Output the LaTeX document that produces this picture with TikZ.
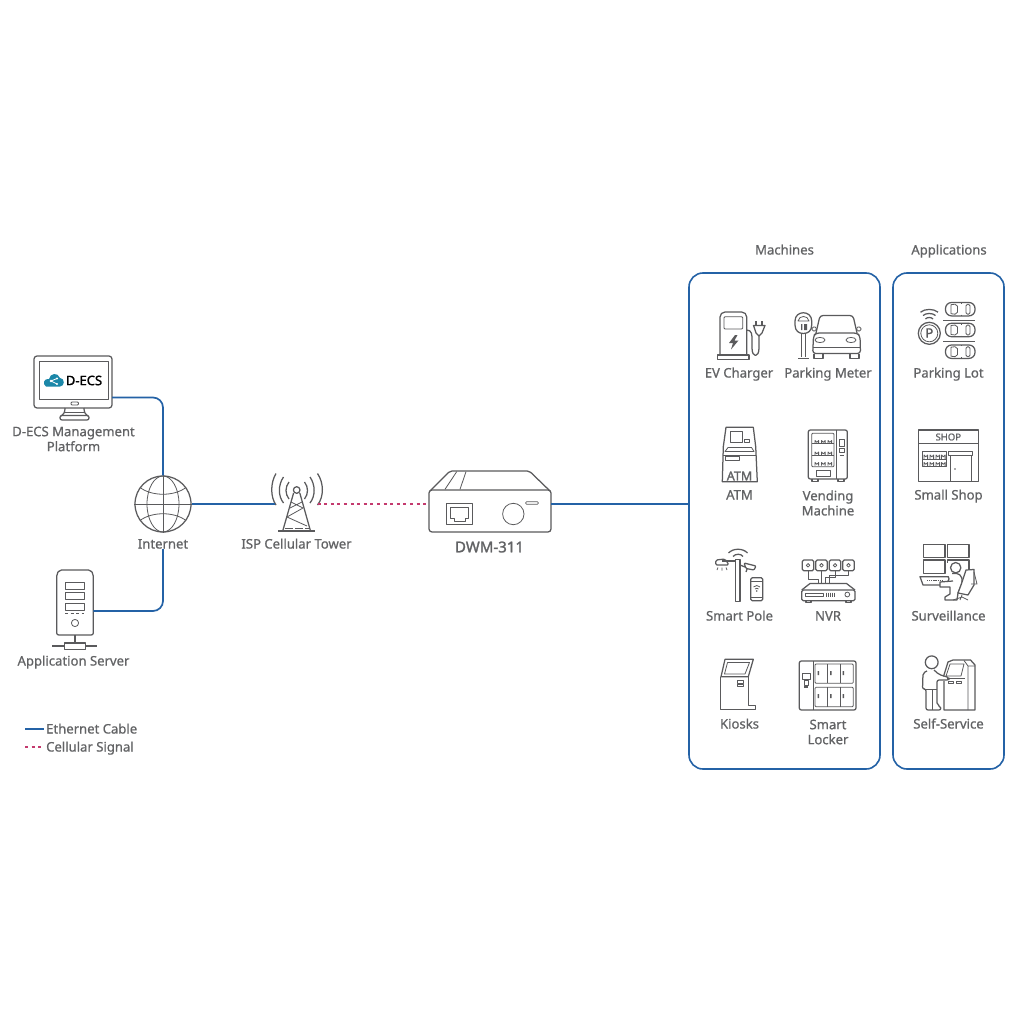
\documentclass[tikz,border=0pt]{standalone}
\usepackage{fontspec}
\setmainfont{Noto Sans}[FakeBold=0.8]
\newfontfamily\boldf{Noto Sans}[FakeBold=1.6]
\definecolor{eth}{HTML}{2462A6}
\definecolor{sig}{HTML}{C43A6E}
\definecolor{ink}{HTML}{5A5A5C}
\definecolor{txt}{HTML}{626365}
\definecolor{teal}{HTML}{1B87A8}
\tikzset{
 lbl/.style={text=txt,font=\fontsize{13.1}{15}\selectfont,align=center,inner sep=0pt},
 one/.style={lbl,text height=9.5pt,text depth=.5pt},
 ic/.style={draw=ink,line width=1.25pt,line join=round},
 th/.style={draw=ink,line width=.8pt,line join=round},
 ethline/.style={draw=eth,line width=1.7pt},
 sigline/.style={draw=sig,line width=1.7pt,dash pattern=on 3pt off 3.6pt},
 panel/.style={draw=eth,line width=1.6pt,rounded corners=14pt,inner sep=0pt,fill=none},
 anchorbox/.style={inner sep=0pt,outer sep=0pt,draw=none}
}
\begin{document}
\begin{tikzpicture}[x=1pt,y=-1pt]
\useasboundingbox[fill=white] (0,0) rectangle (1024,1024);
% panels
\node[panel,minimum width=191pt,minimum height=496pt] (mach) at (784.5,521) {};
\node[panel,minimum width=111pt,minimum height=496pt] (appl) at (948.5,521) {};
\node[one] (machT) at (784.5,250) {Machines};
\node[one] (applT) at (949,250) {Applications};
% monitor
\node[ic,anchorbox,draw=ink,rounded corners=3pt,minimum width=78pt,minimum height=52pt] (mon) at (73,382) {};
\draw[th] (39,361) rectangle (108,399);
\draw[th,rounded corners=1pt] (71,402) rectangle (78.5,405);
\draw[ic] (65,408) .. controls (65,412) and (64,414) .. (61,416) (84,408) .. controls (84,412) and (85,414) .. (88,416);
\draw[ic,rounded corners=2pt] (60,415.5) rectangle (89,420);
\draw[th] (65,412) -- (84,412);
% logo
\fill[teal] (46,386.5) .. controls (42,384) and (44,378) .. (49,379) .. controls (50,373) and (58,372) .. (60,378) .. controls (65,378) and (65,386.5) .. (60,386.5) -- cycle;
\draw[white,line width=.8pt] (51,381) -- (57,378.5) (51,381) -- (57,384);
\fill[white] (51,381) circle (1.3) (57,378.5) circle (1.1) (57,384) circle (1.1);
\node[inner sep=0pt,text=black,font=\boldf\fontsize{13}{14}\selectfont] (logo) at (84,380.5) {D-ECS};
\node[lbl] (monL) at (73.5,439) {D-ECS Management\\Platform};
% globe
\node[circle,draw=ink,line width=1.25pt,minimum size=56pt,inner sep=0pt] (globe) at (163,504) {};
\draw[th] (globe.west) -- (globe.east) (globe.north) -- (globe.south);
\draw[th] (globe.center) ellipse (16 and 28);
\draw[th] (140,487.5) .. controls (152,496.5) and (174,496.5) .. (186,487.5);
\draw[th] (140,520.5) .. controls (152,511.5) and (174,511.5) .. (186,520.5);
\node[one] (inet) at (163,544) {Internet};
% server
\node[anchorbox,minimum width=36.6pt,minimum height=65pt] (srv) at (75,602.5) {};
\draw[ic,rounded corners=2pt] (59.5,570) -- (90.5,570) -- (93.3,574) -- (93.3,635) -- (56.7,635) -- (56.7,574) -- cycle;
\draw[th] (65,582.3) rectangle (84.3,589.3) (65,592.7) rectangle (84.3,599.7) (65,603.3) rectangle (84.3,610.3);
\draw[th,dash pattern=on 3pt off 2.5pt] (65,613) -- (84.3,613);
\draw[th] (75,623) circle (3.6);
\draw[ic] (75,635) -- (75,643);
\draw[ic] (64.3,643) rectangle (85.3,649.3);
\draw[ic] (52.3,646) -- (64.3,646) (85.3,646) -- (96.7,646);
\node[one] (srvL) at (73.5,661) {Application Server};
% tower
\coordinate (twrL) at (275,504);
\coordinate (twrR) at (317.5,504);
\draw[ic] (296.7,490) circle (3.3);
\draw[ic] (293.6,493) -- (282.7,531) (299.8,493) -- (310.5,531);
\draw[ic] (278.3,531) -- (315,531);
\draw[th] (291,502) -- (303,508) -- (287,517) -- (307,526) (302,502) -- (290,508);
\draw[th,dash pattern=on 8pt off 2pt] (285,528) -- (309,528);
\draw[ic] (289,482) .. controls (285,487) and (285,494) .. (289,499);
\draw[ic] (304.5,482) .. controls (308.5,487) and (308.5,494) .. (304.5,499);
\draw[ic] (283.5,477) .. controls (278,485) and (278,496) .. (283.5,503);
\draw[ic] (310,477) .. controls (315.5,485) and (315.5,496) .. (310,503);
\draw[ic] (276,473.5) .. controls (270.3,483) and (270.3,497) .. (276,505);
\draw[ic] (317.5,473.5) .. controls (324,483) and (324,497) .. (317.5,505);
\node[one] (twrT) at (296.5,544) {ISP Cellular Tower};
% device
\node[anchorbox,ic,draw=ink,rounded corners=3pt,minimum width=122pt,minimum height=42pt] (dev) at (490,511) {};
\draw[ic,rounded corners=2pt] (430,491) -- (450,471) -- (529.3,471) -- (550,491);
\draw[th] (445,489.3) -- (456.7,471.7) (460,489.3) -- (466,471.7);
\draw[th] (446.7,503.3) rectangle (472.3,524.3);
\draw[th] (450.5,507) -- (468.5,507) -- (468.5,518.5) -- (465,518.5) -- (465,521) -- (454,521) -- (454,518.5) -- (450.5,518.5) -- cycle;
\draw[th] (513.3,514) circle (10.7);
\draw[th,rounded corners=1pt] (525.7,501.7) rectangle (538.3,504.3);
\node[text=txt,inner sep=0pt,font=\boldf\fontsize{15}{17}\selectfont] (devL) at (489.5,547) {DWM-311};
% connectors
\draw[ethline,rounded corners=10pt] ([yshift=-15.5pt]mon.east) -| (globe.north);
\draw[ethline,rounded corners=10pt] ([yshift=-8.5pt]srv.east) -| (inet.south);
\draw[ethline] (globe.east) -- (twrL);
\draw[sigline] (twrR) -- ([yshift=7pt]dev.west);
\draw[ethline] ([yshift=7pt]dev.east) -- ([yshift=7pt]dev.east -| mach.west);
% legend
\coordinate (lg1a) at (25,729); \coordinate (lg1b) at (43.5,729);
\coordinate (lg2a) at (25,747); \coordinate (lg2b) at (43.5,747);
\draw[ethline] (lg1a) -- (lg1b);
\draw[sigline] (lg2a) -- (lg2b);
\node[one,anchor=west] (lgA) at (46,729) {Ethernet Cable};
\node[one,anchor=west] (lgB) at (46,747) {Cellular Signal};
% EV charger
\draw[ic,rounded corners=5pt] (720,355) -- (720,312) -- (746.7,312) -- (746.7,355);
\draw[ic] (717.7,355) rectangle (749,359.3);
\draw[th,rounded corners=1pt] (724,316.7) rectangle (742.7,329);
\fill[ink] (735,335) -- (729,343) -- (733,343) -- (731,349.5) -- (738.5,340.5) -- (734.5,340.5) -- (737.5,335) -- cycle;
\draw[ic] (746.7,330) .. controls (752,330) and (752,335) .. (752,340) -- (752,348) .. controls (752,358) and (759,358) .. (759,348) -- (759,336);
\draw[ic] (753.5,325.5) -- (765,325.5) -- (762,333) -- (759,336) -- (756,333) -- cycle;
\draw[ic] (756,321) -- (756,325) (762,321) -- (762,325);
\node[one] (evL) at (739,373) {EV Charger};
% parking meter + car
\draw[ic] (795,321) .. controls (795,310) and (811.7,310) .. (811.7,321) -- (811.7,325) .. controls (811.7,331) and (808,333.5) .. (803.3,333.5) .. controls (799,333.5) and (795,331) .. (795,325) -- cycle;
\draw[th] (798,321) .. controls (799,315) and (808,315) .. (809,321) -- cycle;
\fill[ink] (801,324) rectangle (802.3,330) (804,324) rectangle (807,330);
\draw[ic] (801.3,334) -- (801.3,357) (805.3,334) -- (805.3,357);
\draw[ic] (798,358.5) -- (808.5,358.5);
\draw[ic,rounded corners=3pt] (816,333) -- (820,315.5) -- (853,315.5) -- (857,333);
\draw[ic,rounded corners=3pt] (816,333) -- (813.5,336) -- (812.7,353.5) -- (860.5,353.5) -- (860,336) -- (857,333) -- cycle;
\draw[th] (812.7,347) -- (860.5,347);
\draw[ic] (814,353.5) -- (814,358.5) -- (823,358.5) -- (823,353.5) (850,353.5) -- (850,358.5) -- (859,358.5) -- (859,353.5);
\draw[th,rounded corners=1.5pt] (812,327) -- (816.5,327) -- (816,331) -- (812,331) -- cycle (856.5,327) -- (861,327) -- (861,331) -- (857,331) -- cycle;
\draw[th] (820,340) ellipse (5 and 2.6) (851,340) ellipse (5 and 2.6);
\node[one] (pmL) at (828,373) {Parking Meter};
% ATM
\draw[ic] (726,427.3) -- (753.3,427.3) -- (755.7,446.7) -- (757.3,481.7) -- (722.3,481.7) -- (723.3,446.7) -- cycle;
\draw[th] (730,431) rectangle (742.7,442.3) (744.5,439) rectangle (749,442.3);
\draw[th] (728,447.5) -- (751.5,447.5) -- (754,451.5) -- (725,451.5) -- cycle;
\draw[th] (723,455) -- (756,455);
\draw[th] (725,456.5) rectangle (739.5,460);
\node[inner sep=0pt,text=txt,font=\boldf\fontsize{12.5}{14}\selectfont] (atmS) at (739.5,476) {ATM};
\node[one] (atmL) at (739.5,495) {ATM};
% Vending
\draw[ic,rounded corners=2pt] (808.3,430) rectangle (847.3,479);
\draw[ic] (812,479) -- (812,481.7) -- (818,481.7) -- (818,479) (838,479) -- (838,481.7) -- (844,481.7) -- (844,479);
\draw[th] (836.7,430) -- (836.7,479);
\draw[th,rounded corners=1pt] (811.7,433.3) rectangle (834,466.7);
\draw[th] (812,443.5) -- (834,443.5) (812,455) -- (834,455);
\foreach \yy in {443.5,455,465.5}{\foreach \xx in {815,821.5,828}{\draw[th] (\xx,\yy) -- (\xx,\yy-3) arc (180:0:1.8) -- (\xx+3.6,\yy);}}
\draw[th] (839,439) rectangle (844.7,446.7) (839.7,448) rectangle (844,452);
\draw[ic] (839.7,455.5) -- (844.3,455.5);
\draw[th] (816,470) rectangle (830.7,476);
\node[lbl] (vmL) at (828,503) {Vending\\Machine};
% Smart pole
\draw[ic] (735.8,559.5) rectangle (740,601.7);
\draw[ic] (735.8,561) -- (722,561);
\draw[ic,rounded corners=1.5pt] (725,559) -- (716,560) -- (715.5,565) -- (729,565) -- cycle;
\draw[th] (718,567.5) -- (717,570) (722,567.5) -- (722,570.5) (726,567.5) -- (727,570);
\draw[ic] (733,556.5) .. controls (735.5,553.5) and (741,553.5) .. (743,556.5);
\draw[ic] (728.5,553) .. controls (733,548) and (743,548) .. (747.5,553);
\draw[ic] (740,565) -- (745,567);
\draw[ic,rounded corners=1pt] (744,563) -- (756,566) -- (754,570) -- (746,568.5) -- cycle;
\draw[ic] (747,569) -- (746,572);
\draw[ic,rounded corners=1.5pt] (750.7,577.7) rectangle (762.7,600.7);
\draw[th] (750.7,581) -- (762.7,581) (750.7,597) -- (762.7,597);
\draw[th] (753.5,587) .. controls (755,585) and (758.5,585) .. (760,587) (755,589) .. controls (756,588) and (757.5,588) .. (758.5,589);
\fill[ink] (756.7,591) circle (.9);
\node[one] (spL) at (739.5,616) {Smart Pole};
% NVR
\foreach \xx/\nn in {802.3/a,815.7/b,829.3/c,842.7/d}{
 \draw[ic,rounded corners=1.5pt] (\xx,560) rectangle ++(11.5,10.7);
 \draw[th] (\xx+5.75,565.3) circle (1.8);}
\draw[th] (808,570.7) -- (808,579) -- (818,579) -- (818,583);
\draw[th] (821.5,570.7) -- (821.5,583);
\draw[th] (835,570.7) -- (835,577) -- (825,577) -- (825,583);
\draw[th] (848.5,570.7) -- (848.5,575) -- (829,575) -- (829,583);
\draw[ic] (801.7,590) -- (810,583.5) -- (846.5,583.5) -- (855,590);
\draw[ic,rounded corners=1.5pt] (801.7,590) rectangle (855,600.7);
\draw[ic] (806,600.7) -- (806,602.7) -- (811,602.7) -- (811,600.7) (846,600.7) -- (846,602.7) -- (851,602.7) -- (851,600.7);
\draw[th] (805.7,593.5) rectangle (823.3,596.7);
\foreach \xx in {826.5,828.5,830.5,832.5,834.5}{\draw[th] (\xx,592.5) -- (\xx,597);}
\draw[th] (847.3,594.5) circle (2.4);
\node[one] (nvrL) at (828,616) {NVR};
% Kiosk
\draw[ic] (721,676.7) -- (725,659.3) -- (753.3,659.3) -- (748.3,676.7) -- cycle;
\draw[th] (724.5,674) -- (727.5,662.5) -- (749.5,662.5) -- (745,674) -- cycle;
\draw[ic] (720.7,676.7) -- (720.7,709.3) -- (755.7,709.3) -- (755.7,705.5) -- (748.3,705.5) -- (748.3,676.7);
\draw[ic] (720.7,709.3) -- (748.3,709.3);
\draw[th] (737.7,680) rectangle (743.3,683.5) (737.7,684.5) rectangle (743.3,686.7);
\node[one] (kiL) at (739.5,724) {Kiosks};
% Locker
\draw[ic,rounded corners=2pt] (799.3,661) rectangle (856,710);
\draw[th] (813.3,661) -- (813.3,710);
\draw[th,rounded corners=1pt] (815,664) rectangle (853.3,683.3) (815,687.3) rectangle (853.3,706.7);
\draw[th] (827.7,664) -- (827.7,683.3) (840,664) -- (840,683.3) (827.7,687.3) -- (827.7,706.7) (840,687.3) -- (840,706.7);
\foreach \xx in {817.5,830,842.5}{\fill[ink] (\xx,671) rectangle ++(1.5,4) (\xx,694) rectangle ++(1.5,4);}
\draw[th] (802.3,673) rectangle (810,679.3) (804.3,680.7) rectangle (808.3,685);
\draw[ic] (804.3,687) -- (808.3,687);
\node[lbl] (lkL) at (828,732) {Smart\\Locker};
% Parking lot
\foreach \yy in {309.2,330,351.7}{
 \draw[ic,rounded corners=6pt] (945.5,\yy-6.7) rectangle (975,\yy+6.7);
 \draw[th] (951,\yy-4.5) -- (955,\yy-5) -- (957.5,\yy-3) -- (957.5,\yy+3) -- (955,\yy+5) -- (951,\yy+4.5) -- cycle;
 \draw[th,rounded corners=1.5pt] (966,\yy-5) rectangle (970,\yy+5);
 \draw[th] (961,\yy-6.7) -- (961,\yy-5.5) (961,\yy+5.5) -- (961,\yy+6.7);}
\draw[th] (943,320) -- (975,320) (943,341.7) -- (975,341.7);
\draw[ic] (929.3,333.3) circle (11);
\draw[th] (929.3,333.3) circle (8.5);
\node[inner sep=0pt,text=ink,font=\boldf\fontsize{13}{14}\selectfont] (pk) at (929.3,333) {P};
\draw[ic] (925.5,319) .. controls (927,317) and (931.5,317) .. (933,319);
\draw[ic] (923,315.5) .. controls (926,312.8) and (932.5,312.8) .. (935.5,315.5);
\draw[ic] (920.5,312.2) .. controls (925,308.5) and (933.5,308.5) .. (938,312.2);
\node[one] (plL) at (948.5,373) {Parking Lot};
% Shop
\draw[ic] (918.3,430) rectangle (978.3,481.7);
\draw[ic] (918.3,443.3) -- (978.3,443.3);
\node[inner sep=0pt,text=txt,font=\fontsize{9.5}{11}\selectfont] (shp) at (948.3,437) {SHOP};
\draw[th] (948.5,451) rectangle (972,455);
\draw[th] (950,455) rectangle (971.7,481);
\fill[ink] (955,469) circle (.8);
\draw[th] (922.3,451.7) rectangle (946.7,466.7) (922.3,459) -- (946.7,459);
\foreach \xx in {924,930,936,941.5}{\draw[th] (\xx,459) -- (\xx,455) arc (180:0:1.8) -- (\xx+3.6,459) (\xx,466.7) -- (\xx,462.5) arc (180:0:1.8) -- (\xx+3.6,466.7);}
\node[one] (shL) at (948.5,495) {Small Shop};
% Surveillance
\draw[ic] (923.3,544.3) rectangle (945,557.7) (947.3,544.3) rectangle (969,557.7);
\draw[ic] (923.3,560) rectangle (945,573.3);
\draw[ic] (969,573) -- (969,560) -- (947.3,560) -- (947.3,563);
\draw[ic,fill=white] (955.7,567.7) circle (5.2);
\draw[ic,fill=white] (920,576.7) -- (948.3,576.7) -- (949,579) -- (946,585) -- (923,585) -- cycle;
\draw[th,dash pattern=on 1.2pt off .9pt] (927,580.5) -- (942,580.5);
\draw[ic,fill=white] (952,573.5) .. controls (958,572.5) and (963,574.5) .. (962,583) -- (958,593) -- (957,600) -- (945,600) -- (945,597) -- (950,594) -- (950,587) -- (940,587) -- (940,582) -- (953,581);
\draw[ic,fill=white] (966,570) -- (974,569.5) -- (974,585) -- (968,595) -- (958,593) -- (961,585) -- cycle;
\draw[th] (974,572) -- (977,584) -- (971,584);
\draw[th] (962,595) -- (960,600) (962,597) -- (968,600) (962,597) -- (953,600);
\node[one] (suL) at (948.5,616) {Surveillance};
% Self-service
\draw[ic] (931.7,662.3) circle (6.4);
\draw[ic,rounded corners=2pt] (927,671) -- (923,673) -- (922.5,689) -- (926,689) -- (926,710) -- (941,710) -- (940.5,706) -- (937,705) -- (937,680) -- (949,680) -- (949,677.5) -- (939,674.5) -- (934,670);
\draw[th] (926,689) -- (937,689) (932,689) -- (932,710);
\draw[ic] (943.5,676.5) -- (948,662) -- (953,660) -- (970.5,660) -- (975,665) -- (975,710) -- (944,710) -- (944,681);
\draw[th] (964,660.5) -- (968,666) -- (968,710) (968,666) -- (975,666);
\draw[th] (950,664) -- (964,664) -- (961,676) -- (946,676) -- cycle;
\draw[th] (947,678.5) -- (965,678.5);
\draw[th] (948,681) rectangle (953,683) (956,681) rectangle (961,683);
\node[one] (ssL) at (948.5,724) {Self-Service};
\end{tikzpicture}
\end{document}
